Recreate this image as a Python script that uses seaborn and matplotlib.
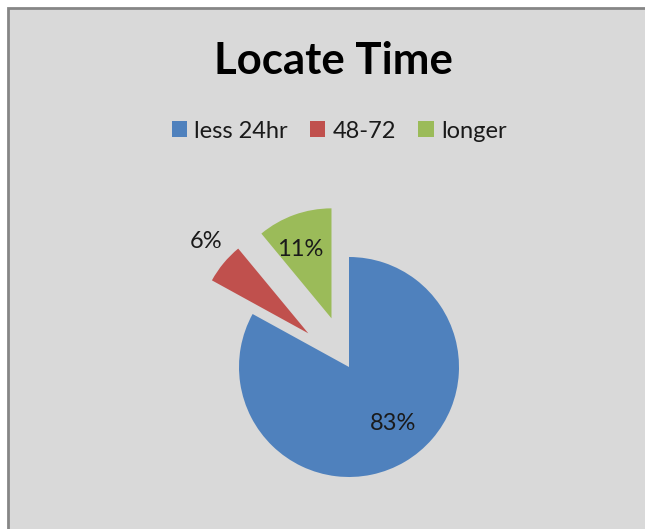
import matplotlib
matplotlib.use("Agg")
import matplotlib.pyplot as plt
import seaborn as sns
from matplotlib.patches import Rectangle

sns.set_theme(style="white")
plt.rcParams['font.family'] = ['Lato', 'DejaVu Sans']

categories = ["less 24hr", "48-72", "longer"]
values = [83, 6, 11]
colors = ["#4F81BD", "#C0504D", "#9BBB59"]
title = "Locate Time"

W, H = 645, 529
fig = plt.figure(figsize=(W / 100, H / 100), dpi=100, facecolor="white")

# chart area background with border
bg = fig.add_axes([0, 0, 1, 1])
bg.set_xlim(0, W)
bg.set_ylim(H, 0)
bg.axis("off")
bg.add_patch(Rectangle((8, 8), W, H, facecolor="#D9D9D9", edgecolor="#868686", linewidth=2))

fig.text(333 / W, 1 - 61 / H, title, ha="center", va="center", fontsize=31.5,
         fontweight="bold", color="black")

# pie
r = 110
cx, cy = 349, 367
ax = fig.add_axes([(cx - r) / W, 1 - (cy + r) / H, 2 * r / W, 2 * r / H])
ax.set_facecolor("none")
wedges, texts, autotexts = ax.pie(
    values, colors=colors, startangle=90, counterclock=False,
    explode=(0, 0.48, 0.47), radius=1,
    autopct=lambda p: f"{p:.0f}%", pctdistance=0.6,
    wedgeprops=dict(linewidth=0), textprops=dict(fontsize=17, color="#1a1a1a"))
ax.set_xlim(-1, 1)
ax.set_ylim(-1, 1)
ax.set_aspect("equal")
ax.axis("off")
# label positions
autotexts[0].set_position(((393 - cx) / r, (cy - 423) / r))
autotexts[1].set_position(((206 - cx) / r, (cy - 242) / r))
autotexts[2].set_position(((300 - cx) / r, (cy - 250) / r))
for t in autotexts:
    t.set_clip_on(False)

# legend
leg = fig.legend(wedges, categories, loc="center", bbox_to_anchor=(339 / W, 1 - 131 / H),
                 ncol=3, frameon=False, fontsize=17, handlelength=0.65, handleheight=0.65,
                 handletextpad=0.3, columnspacing=0.95)
for t in leg.get_texts():
    t.set_color("#1a1a1a")

fig.savefig("out.png", dpi=100, facecolor="white")
